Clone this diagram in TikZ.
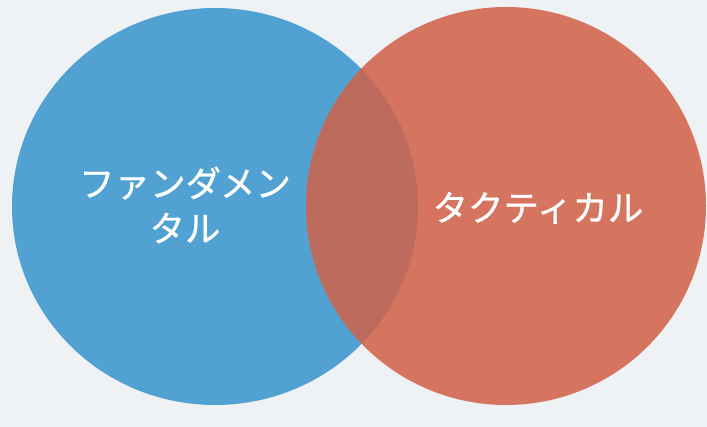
\documentclass[tikz,border=0pt]{standalone}
\usepackage{fontspec}
\newfontfamily\cjk[FakeBold=0.8]{Noto Sans CJK JP}
\usepackage{xcolor}
\usetikzlibrary{positioning}

\definecolor{bgGray}{HTML}{EEF2F5}
\definecolor{setBlue}{HTML}{51A2D2}
\definecolor{setRed}{HTML}{D5745F}
\definecolor{setBoth}{HTML}{BC6B5C}

\tikzset{
  setlabel/.style={text=white, font=\cjk\fontsize{35.5}{45}\selectfont, align=center, inner sep=0pt}
}

\begin{document}
\begin{tikzpicture}[x=1pt, y=1pt]
%background
\fill[bgGray] (0,0) rectangle (707,427);
\useasboundingbox (0,0) rectangle (707,427);

%sets
\fill[setBlue] (215,220.5) ellipse [x radius=203pt, y radius=198.5pt];
\fill[setRed] (506,221) ellipse [x radius=200pt, y radius=199pt];
\begin{scope}
  \clip (215,220.5) ellipse [x radius=203pt, y radius=198.5pt];
  \fill[setBoth] (506,221) ellipse [x radius=200pt, y radius=199pt];
\end{scope}

%labels
\node[setlabel] (fund) at (185,222) {ファンダメン\\タル};
\node[setlabel] (tact) at (538,219) {タクティカル};
\end{tikzpicture}
\end{document}
